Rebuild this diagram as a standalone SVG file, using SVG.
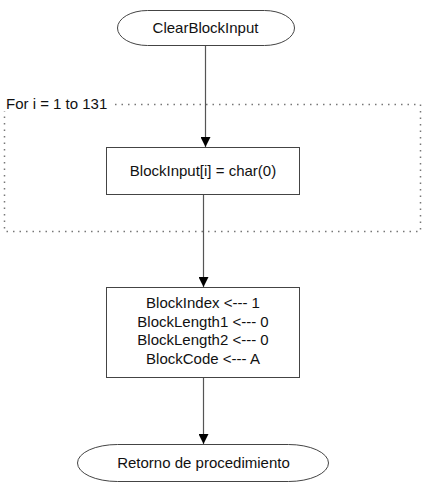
<svg xmlns="http://www.w3.org/2000/svg" width="426" height="486" viewBox="0 0 426 486">
<style>
.t{font-family:"Liberation Sans",Arial,sans-serif;font-size:15px;fill:#111;text-anchor:middle}
.s{fill:#fff;stroke:#444;stroke-width:1}
.c{stroke:#555;stroke-width:1.2;fill:none}
</style>
<defs>
<marker id="a" markerWidth="10" markerHeight="10" refX="10" refY="5" orient="auto" markerUnits="userSpaceOnUse">
<path d="M0,0 L10,5 L0,10 Z" fill="#000"/>
</marker>
</defs>
<rect x="0" y="0" width="426" height="486" fill="#fff"/>
<g id="loop">
<rect x="4.5" y="104.5" width="416" height="127" fill="none" stroke="#777" stroke-width="1.5" stroke-dasharray="1.5 5"/>
<rect x="3" y="95" width="110" height="16" fill="#fff"/>
<text x="6" y="109" style="font-family:'Liberation Sans',Arial,sans-serif;font-size:15px;fill:#111">For i = 1 to 131</text>
</g>
<g id="connectors">
<line class="c" x1="205.5" y1="45" x2="205.5" y2="147" marker-end="url(#a)"/>
<line class="c" x1="203.5" y1="194" x2="203.5" y2="287" marker-end="url(#a)"/>
<line class="c" x1="203.5" y1="377" x2="203.5" y2="444" marker-end="url(#a)"/>
</g>
<g id="start">
<rect class="s" x="117.5" y="10.5" width="177" height="35" rx="30" ry="17.5"/>
<text class="t" x="205.5" y="33">ClearBlockInput</text>
</g>
<g id="assign">
<rect class="s" x="106.5" y="147.5" width="193" height="47"/>
<text class="t" x="203" y="176">BlockInput[i] = char(0)</text>
</g>
<g id="init">
<rect class="s" x="106.5" y="287.5" width="193" height="90"/>
<text class="t" x="203" y="308">BlockIndex &lt;--- 1</text>
<text class="t" x="203" y="326.5">BlockLength1 &lt;--- 0</text>
<text class="t" x="203" y="345">BlockLength2 &lt;--- 0</text>
<text class="t" x="203" y="363.5">BlockCode &lt;--- A</text>
</g>
<g id="end">
<rect class="s" x="77.5" y="444.5" width="251" height="37" rx="40" ry="18.5"/>
<text class="t" x="203.5" y="468">Retorno de procedimiento</text>
</g>
</svg>
